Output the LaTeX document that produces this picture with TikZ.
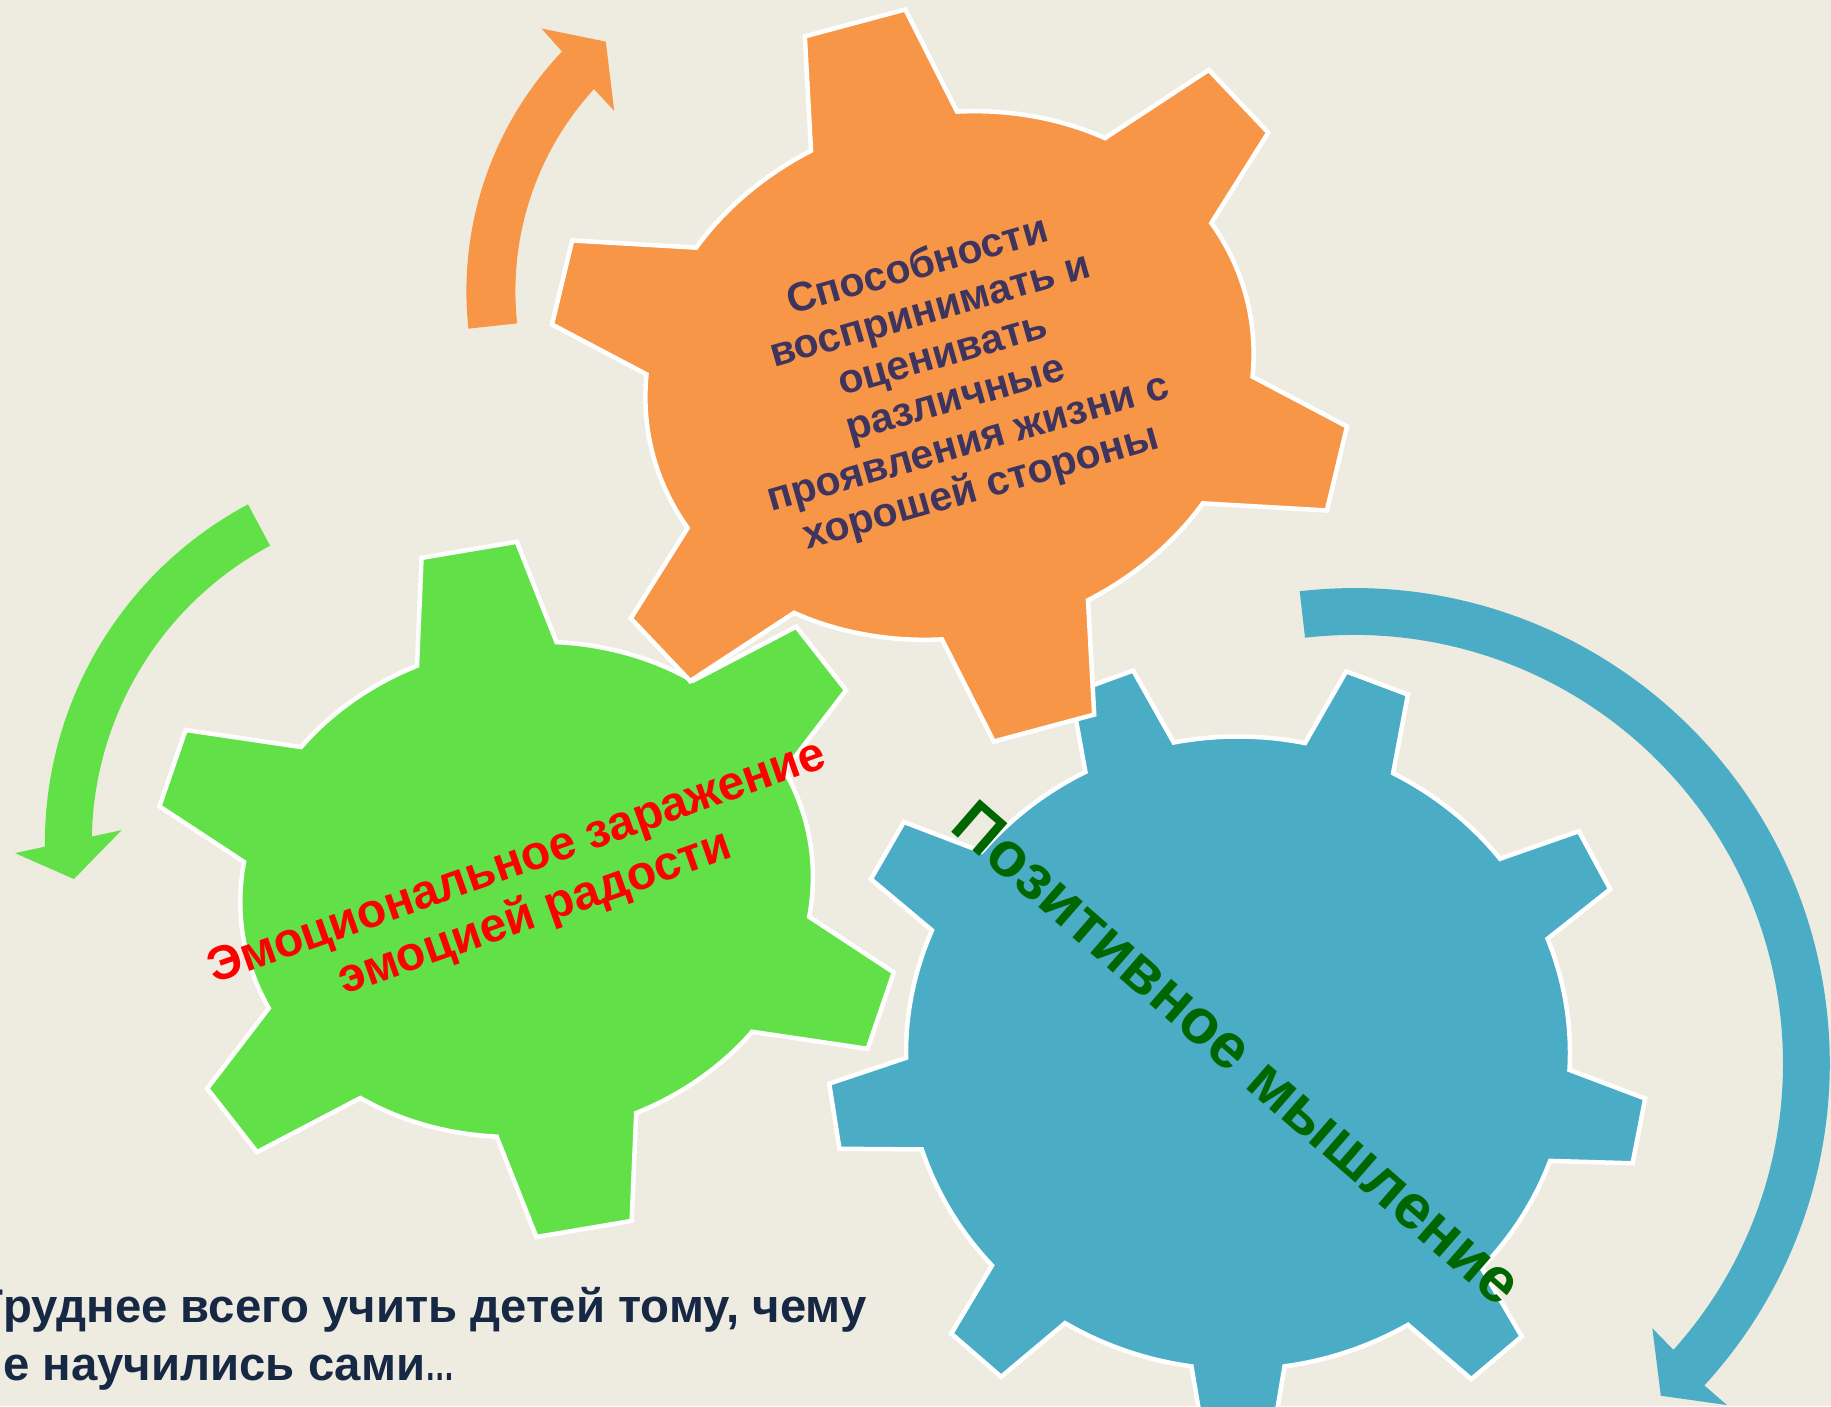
\documentclass[tikz,border=0pt]{standalone}
\usepackage{fontspec}
\setmainfont{Liberation Sans}
\definecolor{bgc}{RGB}{238,236,225}
\definecolor{gorange}{RGB}{247,150,70}
\definecolor{ggreen}{RGB}{98,224,72}
\definecolor{gblue}{RGB}{75,172,198}
\definecolor{torange}{RGB}{62,52,94}
\definecolor{tblue}{RGB}{0,102,0}
\definecolor{tbottom}{RGB}{23,40,69}

\pgfmathdeclarefunction{ger}{1}{%
  \begingroup
  \pgfmathparse{\gqB/sqrt((\gqk*cos(#1))^2+(sin(#1))^2)}%
  \pgfmathsmuggle\pgfmathresult
  \endgroup}

\newcommand\buildgear[1]{%
  \gdef\gearP{}%
  \gdef\gearFirst{1}%
  \foreach \gqang/\gqwt/\gqwb in {#1}{%
    \pgfmathsetmacro\gqr{ger(\gqang)}%
    \pgfmathsetmacro\gqd{atan(\gqwb/\gqr)}%
    \pgfmathsetmacro\gqa{\gqang-\gqd}%
    \pgfmathsetmacro\gqb{\gqang+\gqd}%
    \pgfmathsetmacro\gqra{ger(\gqa)}%
    \pgfmathsetmacro\gqrb{ger(\gqb)}%
    \pgfmathsetmacro\gqro{\gqr+\gqth}%
    \pgfmathsetmacro\gqax{\gqro*cos(\gqang)+\gqwt*sin(\gqang)}%
    \pgfmathsetmacro\gqay{\gqro*sin(\gqang)-\gqwt*cos(\gqang)}%
    \pgfmathsetmacro\gqbx{\gqro*cos(\gqang)-\gqwt*sin(\gqang)}%
    \pgfmathsetmacro\gqby{\gqro*sin(\gqang)+\gqwt*cos(\gqang)}%
    \ifnum\gearFirst=1
      \xdef\gearP{(\gqa:\gqra) -- (\gqax,\gqay) -- (\gqbx,\gqby) -- (\gqb:\gqrb)}%
      \xdef\gearStart{\gqa}%
      \gdef\gearFirst{0}%
    \else
      \xdef\gearP{\unexpanded\expandafter{\gearP} -- plot[domain=\gearPrev:\gqa, samples=24, variable=\noexpand\gqs] (\noexpand\gqs:{ger(\noexpand\gqs)}) -- (\gqax,\gqay) -- (\gqbx,\gqby) -- (\gqb:\gqrb)}%
    \fi
    \xdef\gearPrev{\gqb}%
  }%
  \pgfmathsetmacro\gearEnd{\gearStart+360}%
  \xdef\gearP{\unexpanded\expandafter{\gearP} -- plot[domain=\gearPrev:\gearEnd, samples=24, variable=\noexpand\gqs] (\noexpand\gqs:{ger(\noexpand\gqs)}) -- cycle}%
}

% #1 fill, #2 cx, #3 cy, #4 rot, #5 A, #6 B, #7 tooth height, #8 teeth
\newcommand\drawgear[8]{%
  \def\gqB{#6}\pgfmathsetmacro\gqk{#6/#5}\def\gqth{#7}%
  \buildgear{#8}%
  \begin{scope}[shift={(#2,#3)}, rotate=#4]
    \path[gearline, fill=#1] \gearP;
  \end{scope}}

\tikzset{
  gearline/.style={draw=white, line width=4.5pt, line join=miter},
  lbl/.style={font=\bfseries, inner sep=0pt, align=center}
}

\begin{document}
\begin{tikzpicture}[x=1pt, y=1pt]
\useasboundingbox (0,0) rectangle (1831,1406);
\clip (0,0) rectangle (1831,1406);
\fill[bgc] (0,0) rectangle (1831,1406);

% blue gear (9 teeth)
\drawgear{gblue}{1238}{353}{0}{332}{316.5}{77}{-171.1/33/47, -130.9/33/47, -90/33/47, -49.7/33/47, -11/33/47, 28.4/33/47, 69.4/33/47, 110.1/33/47, 150/33/47}
% green gear
\drawgear{ggreen}{526.6}{516.6}{9.6}{287.4}{246.4}{98}{-151.5/40.4/65.6, -90/48.3/73, -28.5/40.4/65.6, 28.5/40.4/65.6, 90/48.3/73, 151.5/40.4/65.6}
% orange gear
\drawgear{gorange}{949.5}{1030.5}{15}{307}{261}{104}{-151.5/43.2/69.5, -90/52/78, -28.5/43.2/69.5, 28.5/43.2/69.5, 90/52/78, 151.5/43.2/69.5}

% circular arrows
\begin{scope}[shift={(814.4,1114.9)}]
  \fill[gorange] (186.2:348) arc[start angle=186.2, end angle=136.5, radius=348]
    -- (136.1:378.7) -- (129.9:325.2) -- (138:269.4) -- (137.5:299)
    arc[start angle=137.5, end angle=186.2, radius=299] -- cycle;
\end{scope}
\begin{scope}[shift={(428.8,563)}]
  \fill[ggreen] (118.1:383.9) arc[start angle=118.1, end angle=180.55, radius=383.9]
    -- (181.4:413.9) -- (185.8:356.7) -- (177.6:307.4) -- (178.9:337)
    arc[start angle=178.9, end angle=118.1, radius=337] -- cycle;
\end{scope}
\begin{scope}[shift={(1354.3,342.4)}]
  \fill[gblue] (96.6:475.5) arc[start angle=96.6, end angle=-42.6, radius=475.5]
    -- (-42.5:505.4) -- (-47.3:452) -- (-41.6:398.6) -- (-41.9:428.7)
    arc[start angle=-41.9, end angle=96.6, radius=428.7] -- cycle;
\end{scope}

% texts
\node[lbl, text=torange, rotate=16, font=\fontsize{41}{46}\selectfont\bfseries] (to) at (949.5,1028)
  {Способности\\воспринимать и\\оценивать\\различные\\проявления жизни с\\хорошей стороны};
\node[lbl, text=red, rotate=19.5, font=\fontsize{48}{54}\selectfont\bfseries] (tg) at (526.6,516.6)
  {Эмоциональное заражение\\эмоцией радости};
\node[lbl, text=tblue, rotate=-41, font=\fontsize{63}{70}\selectfont\bfseries] (tb) at (1238,353)
  {Позитивное мышление};
\node[lbl, anchor=base west, text=tbottom, font=\fontsize{47.3}{57}\selectfont\bfseries] (q1) at (3,84)
  {\llap{Т}руднее всего учить детей тому, чему};
\node[lbl, anchor=base west, text=tbottom, font=\fontsize{47.3}{57}\selectfont\bfseries] (q2) at (3,26)
  {\llap{н}е научились сами\scalebox{0.62}[1]{…}};
\end{tikzpicture}
\end{document}
